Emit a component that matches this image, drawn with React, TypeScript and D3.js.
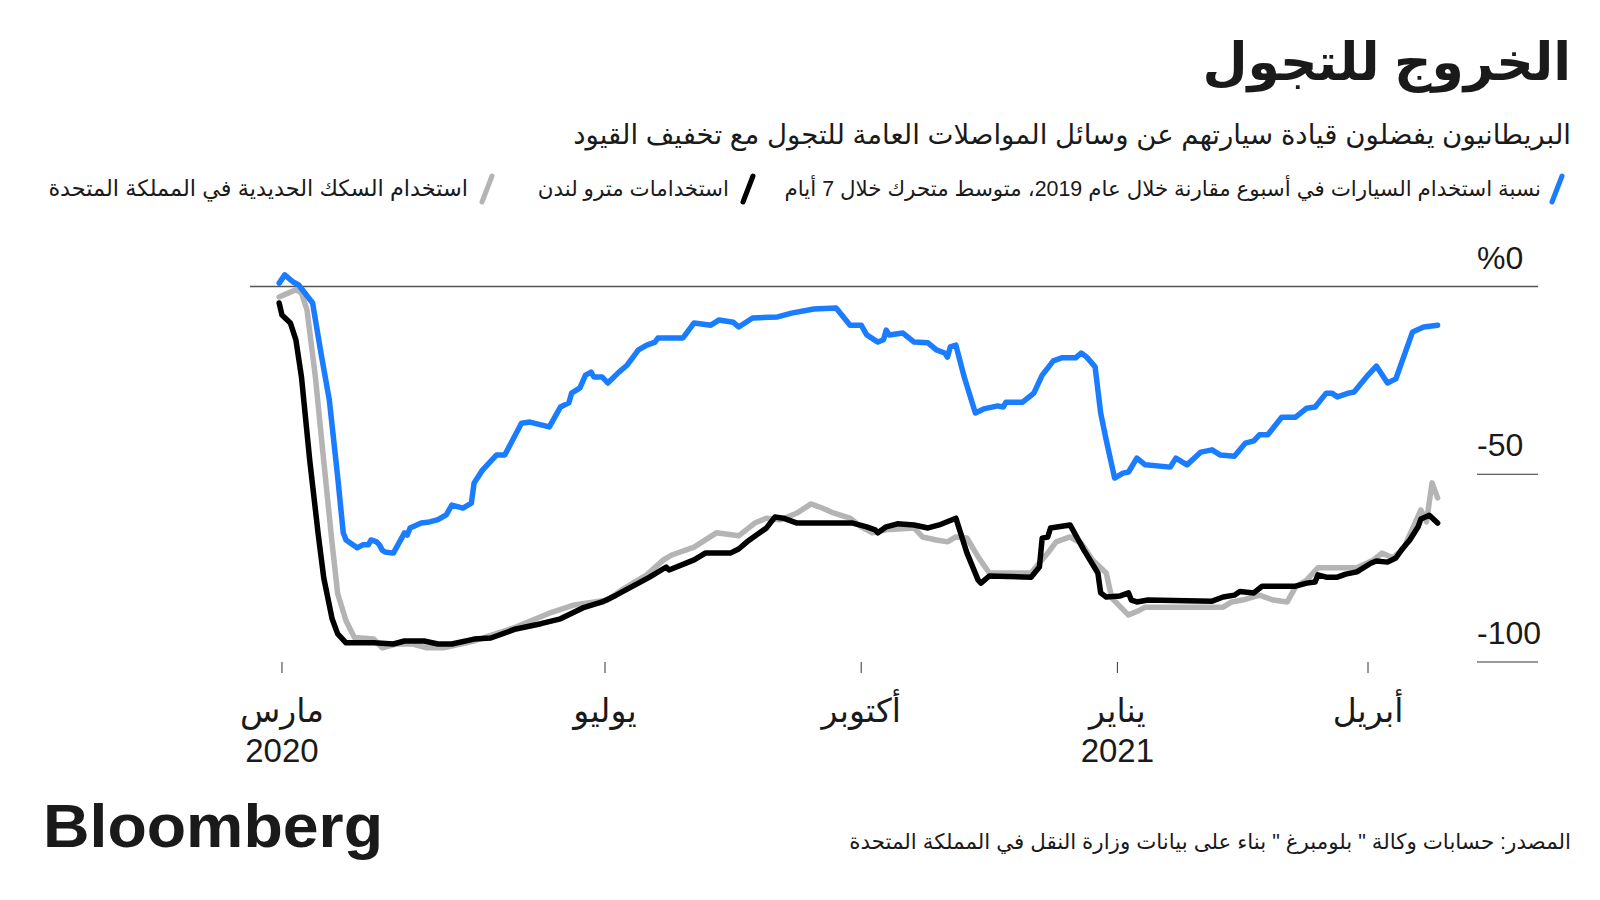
import React from "react";
import * as d3 from "d3";

// Car use vs same week of 2019, 7-day moving average (%)
const carUse: [string, number][] = [
  ["2020-03-06", 0.9], ["2020-03-08", 3.1], ["2020-03-11", 1.2], ["2020-03-13", 0.4],
  ["2020-03-18", -4.4], ["2020-03-21", -17.7], ["2020-03-24", -30.2], ["2020-03-27", -50.7],
  ["2020-03-29", -65.6], ["2020-03-30", -67.5], ["2020-04-03", -69.6], ["2020-04-05", -68.8],
  ["2020-04-07", -68.8], ["2020-04-08", -67.5], ["2020-04-10", -68.0], ["2020-04-11", -68.8],
  ["2020-04-12", -70.2], ["2020-04-13", -70.7], ["2020-04-16", -71.0], ["2020-04-20", -65.6],
  ["2020-04-21", -66.2], ["2020-04-22", -64.3], ["2020-04-26", -63.0], ["2020-04-29", -62.7],
  ["2020-05-02", -62.1], ["2020-05-05", -60.8], ["2020-05-07", -58.2], ["2020-05-11", -59.0],
  ["2020-05-14", -57.7], ["2020-05-15", -52.3], ["2020-05-18", -48.9], ["2020-05-23", -44.9],
  ["2020-05-26", -44.9], ["2020-06-01", -36.4], ["2020-06-04", -36.1], ["2020-06-11", -37.4],
  ["2020-06-15", -32.1], ["2020-06-18", -31.0], ["2020-06-19", -28.4], ["2020-06-22", -27.0],
  ["2020-06-24", -23.6], ["2020-06-26", -22.8], ["2020-06-27", -24.1], ["2020-06-30", -24.1],
  ["2020-07-02", -25.7], ["2020-07-06", -22.8], ["2020-07-09", -20.9], ["2020-07-13", -16.9],
  ["2020-07-16", -15.6], ["2020-07-19", -14.8], ["2020-07-20", -13.7], ["2020-07-29", -13.7],
  ["2020-08-02", -9.7], ["2020-08-08", -10.3], ["2020-08-11", -8.9], ["2020-08-16", -9.5],
  ["2020-08-18", -10.8], ["2020-08-23", -8.4], ["2020-09-01", -8.1], ["2020-09-06", -7.1],
  ["2020-09-14", -6.0], ["2020-09-22", -5.7], ["2020-09-27", -10.3], ["2020-10-01", -10.3],
  ["2020-10-03", -12.9], ["2020-10-07", -14.8], ["2020-10-09", -14.2], ["2020-10-10", -11.6],
  ["2020-10-11", -12.9], ["2020-10-16", -12.4], ["2020-10-20", -14.8], ["2020-10-25", -15.0],
  ["2020-10-28", -16.9], ["2020-10-31", -17.7], ["2020-11-01", -18.8], ["2020-11-02", -16.1],
  ["2020-11-04", -15.6], ["2020-11-07", -24.1], ["2020-11-11", -33.7], ["2020-11-14", -32.6],
  ["2020-11-19", -31.8], ["2020-11-21", -32.1], ["2020-11-22", -30.8], ["2020-11-28", -30.8],
  ["2020-12-02", -28.4], ["2020-12-05", -23.6], ["2020-12-09", -19.8], ["2020-12-12", -19.0],
  ["2020-12-17", -19.0], ["2020-12-19", -17.7], ["2020-12-21", -18.8], ["2020-12-24", -21.4],
  ["2020-12-26", -33.7], ["2020-12-28", -40.9], ["2020-12-31", -51.0], ["2021-01-03", -49.7],
  ["2021-01-05", -49.4], ["2021-01-08", -45.7], ["2021-01-11", -47.5], ["2021-01-20", -48.1],
  ["2021-01-22", -45.7], ["2021-01-26", -47.5], ["2021-01-31", -44.1], ["2021-02-04", -43.5],
  ["2021-02-07", -44.9], ["2021-02-12", -45.2], ["2021-02-16", -41.7], ["2021-02-19", -41.1],
  ["2021-02-21", -39.5], ["2021-02-24", -39.5], ["2021-03-01", -34.8], ["2021-03-06", -34.8],
  ["2021-03-10", -32.4], ["2021-03-13", -32.1], ["2021-03-17", -28.4], ["2021-03-19", -28.4],
  ["2021-03-21", -29.4], ["2021-03-25", -28.4], ["2021-03-27", -28.1], ["2021-04-01", -23.6],
  ["2021-04-04", -21.2], ["2021-04-08", -25.7], ["2021-04-11", -24.6], ["2021-04-17", -12.1],
  ["2021-04-21", -10.8], ["2021-04-26", -10.3],
];

// London Underground use (%)
const tubeUse: [string, number][] = [
  ["2020-03-06", -4.4], ["2020-03-07", -7.6], ["2020-03-10", -9.7], ["2020-03-12", -14.2],
  ["2020-03-14", -24.1], ["2020-03-17", -46.5], ["2020-03-20", -65.9], ["2020-03-22", -77.6],
  ["2020-03-25", -88.5], ["2020-03-27", -92.5], ["2020-03-30", -94.9], ["2020-04-09", -94.9],
  ["2020-04-16", -95.2], ["2020-04-20", -94.4], ["2020-04-27", -94.4], ["2020-05-02", -95.2],
  ["2020-05-07", -95.2], ["2020-05-15", -93.9], ["2020-05-21", -93.6], ["2020-05-30", -91.2],
  ["2020-06-08", -89.8], ["2020-06-15", -88.5], ["2020-06-23", -85.6], ["2020-06-30", -84.0],
  ["2020-07-05", -82.2], ["2020-07-13", -79.0], ["2020-07-17", -77.4], ["2020-07-23", -74.7],
  ["2020-07-24", -75.5], ["2020-07-31", -73.4], ["2020-08-02", -72.8], ["2020-08-06", -71.0],
  ["2020-08-15", -71.0], ["2020-08-18", -69.9], ["2020-08-21", -68.0], ["2020-08-28", -64.3],
  ["2020-08-31", -61.4], ["2020-09-03", -61.7], ["2020-09-08", -63.0], ["2020-09-14", -63.0],
  ["2020-09-28", -63.0], ["2020-10-03", -64.0], ["2020-10-06", -64.8], ["2020-10-07", -65.6],
  ["2020-10-10", -64.0], ["2020-10-14", -63.2], ["2020-10-20", -63.5], ["2020-10-25", -64.3],
  ["2020-10-29", -63.5], ["2020-11-04", -61.7], ["2020-11-08", -71.0], ["2020-11-12", -78.2],
  ["2020-11-13", -79.0], ["2020-11-16", -77.1], ["2020-12-01", -77.4], ["2020-12-04", -74.7],
  ["2020-12-05", -67.0], ["2020-12-07", -66.7], ["2020-12-08", -64.3], ["2020-12-15", -63.5],
  ["2020-12-20", -70.2], ["2020-12-25", -76.3], ["2020-12-26", -81.6], ["2020-12-28", -82.7],
  ["2021-01-02", -82.4], ["2021-01-05", -81.6], ["2021-01-06", -83.5], ["2021-01-08", -84.0],
  ["2021-01-12", -83.5], ["2021-02-04", -83.8], ["2021-02-08", -82.7], ["2021-02-12", -82.2],
  ["2021-02-14", -81.2], ["2021-02-19", -81.6], ["2021-02-22", -79.8], ["2021-03-06", -79.8],
  ["2021-03-10", -79.0], ["2021-03-13", -78.7], ["2021-03-14", -76.8], ["2021-03-17", -77.4],
  ["2021-03-21", -77.4], ["2021-03-24", -76.6], ["2021-03-28", -76.0], ["2021-04-02", -73.7],
  ["2021-04-04", -73.1], ["2021-04-08", -73.4], ["2021-04-11", -72.3], ["2021-04-13", -70.2],
  ["2021-04-16", -67.5], ["2021-04-19", -64.0], ["2021-04-20", -61.9], ["2021-04-23", -60.9],
  ["2021-04-26", -63.0],
];

// UK national rail use (%)
const railUse: [string, number][] = [
  ["2020-03-06", -2.8], ["2020-03-10", -1.5], ["2020-03-12", -0.9], ["2020-03-14", -1.7],
  ["2020-03-16", -6.3], ["2020-03-19", -24.1], ["2020-03-22", -46.5], ["2020-03-25", -68.4],
  ["2020-03-27", -81.8], ["2020-03-30", -89.0], ["2020-04-02", -93.5], ["2020-04-09", -93.9],
  ["2020-04-12", -96.2], ["2020-04-17", -95.2], ["2020-04-23", -95.2], ["2020-04-28", -96.2],
  ["2020-05-04", -96.2], ["2020-05-15", -94.4], ["2020-05-30", -90.7], ["2020-06-11", -87.0],
  ["2020-06-20", -84.8], ["2020-07-02", -83.5], ["2020-07-07", -80.8], ["2020-07-16", -76.8],
  ["2020-07-22", -72.8], ["2020-07-25", -71.5], ["2020-08-02", -69.4], ["2020-08-10", -65.6],
  ["2020-08-18", -66.4], ["2020-08-24", -62.9], ["2020-08-28", -61.7], ["2020-09-02", -62.1],
  ["2020-09-08", -60.3], ["2020-09-13", -57.9], ["2020-09-17", -59.0], ["2020-09-21", -60.3],
  ["2020-09-27", -61.7], ["2020-10-01", -64.0], ["2020-10-05", -65.6], ["2020-10-10", -64.8],
  ["2020-10-20", -64.3], ["2020-10-23", -66.7], ["2020-10-28", -67.5], ["2020-11-01", -68.0],
  ["2020-11-04", -66.7], ["2020-11-08", -67.0], ["2020-11-12", -72.0], ["2020-11-16", -76.3],
  ["2020-12-01", -76.3], ["2020-12-07", -71.0], ["2020-12-10", -68.0], ["2020-12-15", -66.7],
  ["2020-12-19", -68.3], ["2020-12-23", -72.8], ["2020-12-28", -76.3], ["2020-12-30", -83.0],
  ["2021-01-05", -87.5], ["2021-01-09", -86.2], ["2021-01-11", -85.4], ["2021-02-08", -85.4],
  ["2021-02-11", -84.0], ["2021-02-15", -83.5], ["2021-02-21", -82.2], ["2021-02-26", -83.5],
  ["2021-03-03", -84.0], ["2021-03-06", -80.0], ["2021-03-10", -78.2], ["2021-03-14", -74.9],
  ["2021-03-19", -74.9], ["2021-03-28", -74.9], ["2021-04-03", -72.8], ["2021-04-06", -71.0],
  ["2021-04-10", -72.3], ["2021-04-14", -69.4], ["2021-04-20", -59.5], ["2021-04-22", -62.7],
  ["2021-04-24", -52.3], ["2021-04-26", -56.3],
];

const xTickDates = ["2020-03-07", "2020-07-01", "2020-10-01", "2021-01-01", "2021-04-01"];
const xTickLabels: string[][] = [["مارس", "2020"], ["يوليو"], ["أكتوبر"], ["يناير", "2021"], ["أبريل"]];
const yTickValues = [0, -50, -100];
const yTickLabels = ["%0", "-50", "-100"];

const title = "الخروج للتجول";
const subtitle = "البريطانيون يفضلون قيادة سيارتهم عن وسائل المواصلات العامة للتجول مع تخفيف القيود";
const legendLabels = [
  "نسبة استخدام السيارات في أسبوع مقارنة خلال عام 2019، متوسط متحرك خلال 7 أيام",
  "استخدامات مترو لندن",
  "استخدام السكك الحديدية في المملكة المتحدة",
];
const sourceText = "المصدر: حسابات وكالة \" بلومبرغ \" بناء على بيانات وزارة النقل في المملكة المتحدة";

const COLORS = { car: "#1a7cff", tube: "#000000", rail: "#b4b4b4" };
const FONT = "'Liberation Sans', 'DejaVu Sans', Arial, sans-serif";

export default function App() {
  const parse = d3.timeParse("%Y-%m-%d");
  const x = d3
    .scaleTime()
    .domain([parse("2020-07-01")!, parse("2021-04-01")!])
    .range([605, 1368]);
  const y = d3.scaleLinear().domain([0, -100]).range([286.5, 662]);

  const line = d3
    .line<[string, number]>()
    .x((d) => x(parse(d[0])!))
    .y((d) => y(d[1]))
    .curve(d3.curveLinear);

  const legendItems = [
    { label: legendLabels[0], color: COLORS.car, slashX: 1557, textX: 1541 },
    { label: legendLabels[1], color: COLORS.tube, slashX: 748, textX: 729 },
    { label: legendLabels[2], color: COLORS.rail, slashX: 487, textX: 468 },
  ];

  return (
    <svg width={1600} height={900} style={{ display: "block", position: "absolute", left: 0, top: 0 }} fontFamily={FONT}>
      <rect x={0} y={0} width={1600} height={900} fill="#ffffff" />

      <text x={1571} y={80} textAnchor="end" fontSize={52} fontWeight="bold" fill="#1a1a1a">
        {title}
      </text>
      <text x={1571} y={144} textAnchor="end" fontSize={27.6} fill="#1a1a1a">
        {subtitle}
      </text>

      {legendItems.map((it, i) => (
        <g key={i}>
          <line
            x1={it.slashX - 5}
            y1={202}
            x2={it.slashX + 5}
            y2={176}
            stroke={it.color}
            strokeWidth={5}
            strokeLinecap="round"
          />
          <text x={it.textX} y={196} textAnchor="end" fontSize={i === 2 ? 22.4 : 21.4} fill="#1a1a1a">
            {it.label}
          </text>
        </g>
      ))}

      {yTickValues.map((v, i) => (
        <g key={v}>
          <line
            x1={v === 0 ? 250 : 1477}
            x2={1538}
            y1={y(v)}
            y2={y(v)}
            stroke={v === 0 ? "#555555" : "#333333"}
            strokeWidth={v === 0 ? 1.5 : 1}
          />
          <text x={1477} y={y(v) - 18} textAnchor="start" fontSize={32} fill="#1a1a1a">
            {yTickLabels[i]}
          </text>
        </g>
      ))}

      {xTickDates.map((ds, i) => {
        const px = x(parse(ds)!);
        return (
          <g key={ds}>
            <line x1={px} x2={px} y1={662} y2={673} stroke="#333333" strokeWidth={1} />
            {xTickLabels[i].map((t, j) => (
              <text key={j} x={px} y={722 + j * 40} textAnchor="middle" fontSize={33} fill="#1a1a1a">
                {t}
              </text>
            ))}
          </g>
        );
      })}

      <path d={line(railUse) ?? ""} fill="none" stroke={COLORS.rail} strokeWidth={5.5} strokeLinejoin="round" strokeLinecap="round" />
      <path d={line(tubeUse) ?? ""} fill="none" stroke={COLORS.tube} strokeWidth={5.5} strokeLinejoin="round" strokeLinecap="round" />
      <path d={line(carUse) ?? ""} fill="none" stroke={COLORS.car} strokeWidth={5.5} strokeLinejoin="round" strokeLinecap="round" />

      <text x={43} y={847} fontSize={62} fontWeight="bold" fill="#1a1a1a" textLength={340} lengthAdjust="spacingAndGlyphs">
        Bloomberg
      </text>
      <text x={1571} y={849} textAnchor="end" fontSize={21.4} fill="#1a1a1a">
        {sourceText}
      </text>
    </svg>
  );
}
